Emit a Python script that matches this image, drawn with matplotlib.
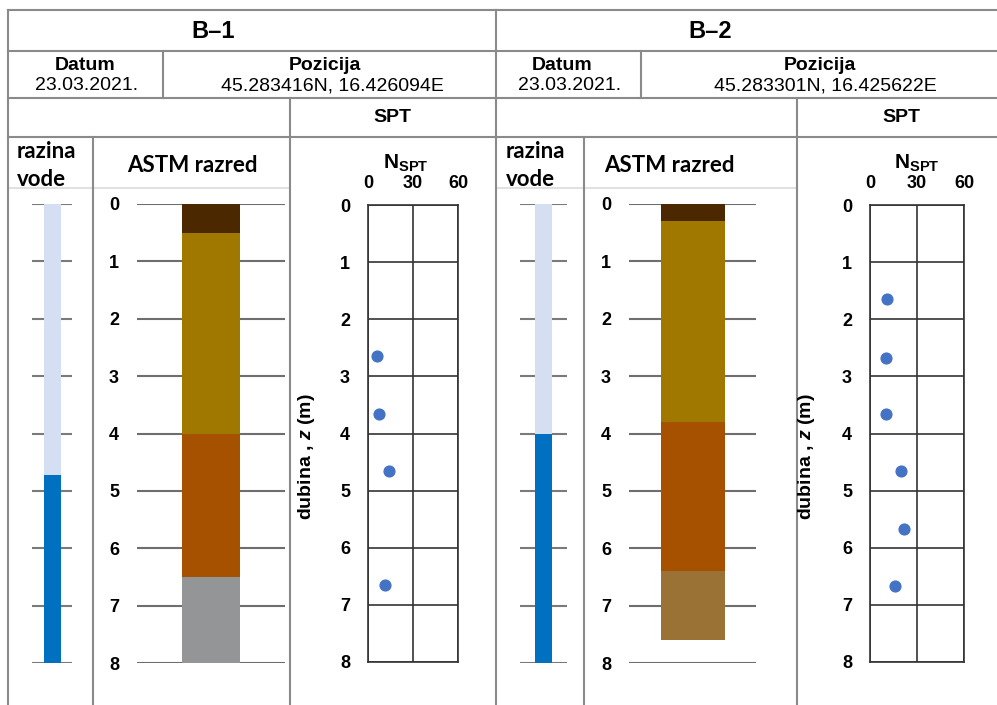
import matplotlib
matplotlib.use("Agg")
import matplotlib.pyplot as plt

plt.rcParams['font.family'] = ['Liberation Sans', 'DejaVu Sans']
plt.rcParams['mathtext.fontset'] = 'custom'
plt.rcParams['mathtext.rm'] = 'Liberation Sans'
plt.rcParams['mathtext.bf'] = 'Liberation Sans:bold'
plt.rcParams['mathtext.it'] = 'Liberation Sans:italic'
try:
    plt.rcParams['mathtext.bfit'] = 'Liberation Sans:bold:italic'
except KeyError:
    pass

# ---------------- data ----------------
borehole_names = ["B\u20131", "B\u20132"]
dates = ["23.03.2021.", "23.03.2021."]
positions = ["45.283416N, 16.426094E", "45.283301N, 16.425622E"]
water_level = [4.72, 4.0]
max_depth = 8
depth_ticks = [0, 1, 2, 3, 4, 5, 6, 7, 8]
nspt_ticks = [0, 30, 60]

b1_layer_top = [0.0, 0.5, 4.0, 6.5]
b1_layer_bottom = [0.5, 4.0, 6.5, 8.0]
b1_layer_color = ["#4B2800", "#A07800", "#A65100", "#949596"]

b2_layer_top = [0.0, 0.3, 3.8, 6.4]
b2_layer_bottom = [0.3, 3.8, 6.4, 7.6]
b2_layer_color = ["#4B2800", "#A07800", "#A65100", "#9A7236"]

b1_spt_depth = [2.65, 3.65, 4.65, 6.65]
b1_spt_n = [6, 7, 14, 11]
b2_spt_depth = [1.65, 2.68, 3.65, 4.65, 5.68, 6.67]
b2_spt_n = [11, 10, 10, 20, 22, 16]

layers = [(b1_layer_top, b1_layer_bottom, b1_layer_color),
          (b2_layer_top, b2_layer_bottom, b2_layer_color)]
spts = [(b1_spt_depth, b1_spt_n), (b2_spt_depth, b2_spt_n)]

# ---------------- layout (pixels) ----------------
W, H = 997, 705
fig = plt.figure(figsize=(W / 100, H / 100), dpi=100)
bg = fig.add_axes([0, 0, 1, 1])
bg.set_xlim(0, W)
bg.set_ylim(H, 0)
bg.axis('off')

panels = [
    dict(left=8, right=496, datum_div=163, razina_div=93, spt_div=290,
         title_x=213, datum_x=85, date_x=87, poz_x=325, coord_x=332, spt_x=392,
         razina_x=17, astm_x=192, nspt_x=406, ylab_x=317,
         water=(32, 72), astm=(137, 285), bar=(182, 240), spt=(368, 458)),
    dict(left=496, right=1000, datum_div=641, razina_div=584, spt_div=797,
         title_x=710, datum_x=562, date_x=570, poz_x=820, coord_x=825, spt_x=901,
         razina_x=506, astm_x=669, nspt_x=917, ylab_x=817,
         water=(520, 567), astm=(629, 756), bar=(661, 725), spt=(870, 964)),
]

LC = "#8a8a8a"
LW = 1.5
Y_TOP, Y_BOT = 204, 663
CALIBRI_LIKE = ['Lato', 'Open Sans', 'DejaVu Sans']


def px_axes(x0, x1, y0, y1):
    return fig.add_axes([x0 / W, 1 - y1 / H, (x1 - x0) / W, (y1 - y0) / H])


for i, p in enumerate(panels):
    L, R = p['left'], p['right']
    # table lines
    for y in (10, 51, 98, 137):
        bg.plot([L, R], [y, y], color=LC, lw=LW)
    bg.plot([L, p['spt_div']], [188, 188], color="#dadada", lw=1.2)
    bg.plot([L, L], [10, H], color=LC, lw=LW)
    bg.plot([p['datum_div'], p['datum_div']], [51, 98], color=LC, lw=LW)
    bg.plot([p['spt_div'], p['spt_div']], [98, H], color=LC, lw=LW)
    bg.plot([p['razina_div'], p['razina_div']], [137, H], color=LC, lw=LW)

    # header text
    bg.text(p['title_x'], 31, borehole_names[i], ha='center', va='center',
            fontsize=17, fontweight='bold')
    bg.text(p['datum_x'], 66, "Datum", ha='center', va='center',
            fontsize=14, fontweight='bold')
    bg.text(p['date_x'], 86, dates[i], ha='center', va='center', fontsize=14)
    bg.text(p['poz_x'], 66, "Pozicija", ha='center', va='center',
            fontsize=14, fontweight='bold')
    bg.text(p['coord_x'], 86, positions[i], ha='center', va='center', fontsize=14)
    bg.text(p['spt_x'], 118, "SPT", ha='center', va='center',
            fontsize=14, fontweight='bold')
    bg.text(p['razina_x'], 152, "razina", ha='left', va='center',
            fontsize=16, fontweight='bold', family=CALIBRI_LIKE)
    bg.text(p['razina_x'], 180, "vode", ha='left', va='center',
            fontsize=16, fontweight='bold', family=CALIBRI_LIKE)
    bg.text(p['astm_x'], 165, "ASTM razred", ha='center', va='center',
            fontsize=16, fontweight='bold', family=CALIBRI_LIKE)
    bg.text(p['nspt_x'], 163, r"$\mathbf{N}_{\mathbf{SPT}}$", ha='center',
            va='center', fontsize=15)

    # water level column
    wx0, wx1 = p['water']
    axw = px_axes(wx0, wx1, Y_TOP, Y_BOT)
    axw.set_xlim(0, 1)
    axw.set_ylim(max_depth, 0)
    axw.axis('off')
    axw.hlines(depth_ticks, 0, 1, color="#7a7a7a", lw=LW, zorder=1)
    bw = 17 / (wx1 - wx0)
    axw.bar(0.5, water_level[i], bottom=0, width=bw, color="#D4DFF2", zorder=2)
    axw.bar(0.5, max_depth - water_level[i], bottom=water_level[i], width=bw,
            color="#0070C0", zorder=2)

    # ASTM column
    ax0, ax1 = p['astm']
    axa = px_axes(ax0, ax1, Y_TOP, Y_BOT)
    axa.set_xlim(ax0, ax1)
    axa.set_ylim(max_depth, 0)
    for s in axa.spines.values():
        s.set_visible(False)
    axa.set_xticks([])
    axa.set_yticks(depth_ticks)
    axa.set_yticklabels([str(t) for t in depth_ticks], fontsize=13, fontweight='bold')
    axa.tick_params(axis='y', length=0, pad=13)
    axa.set_facecolor('none')
    axa.hlines(depth_ticks, ax0, ax1, color="#6e6e6e", lw=LW, zorder=1)
    bx0, bx1 = p['bar']
    tops, bots, cols = layers[i]
    for t, b, c in zip(tops, bots, cols):
        axa.bar((bx0 + bx1) / 2, b - t, bottom=t, width=bx1 - bx0, color=c, zorder=2)

    # SPT column
    sx0, sx1 = p['spt']
    axs = px_axes(sx0, sx1, Y_TOP + 1, Y_BOT - 1)
    axs.set_xlim(0, 60)
    axs.set_ylim(max_depth, 0)
    axs.xaxis.tick_top()
    axs.set_xticks(nspt_ticks)
    axs.set_xticklabels([str(t) for t in nspt_ticks], fontsize=13, fontweight='bold')
    axs.set_yticks(depth_ticks)
    axs.set_yticklabels([str(t) for t in depth_ticks], fontsize=13, fontweight='bold')
    axs.tick_params(axis='y', length=0, pad=13)
    axs.tick_params(axis='x', length=0, pad=9)
    axs.grid(True, color="#333333", lw=1.2)
    for s in axs.spines.values():
        s.set_color("#333333")
        s.set_linewidth(1.2)
    d, n = spts[i]
    axs.scatter(n, d, s=60, color="#4472C4", zorder=3, clip_on=False)
    axs.set_ylabel(r"dubina , $\mathbfit{z}$ (m)", fontsize=14, fontweight='bold')
    axs.yaxis.set_label_coords((p['ylab_x'] - sx0) / (sx1 - sx0), 0.45)

fig.savefig("out.png", dpi=100)
